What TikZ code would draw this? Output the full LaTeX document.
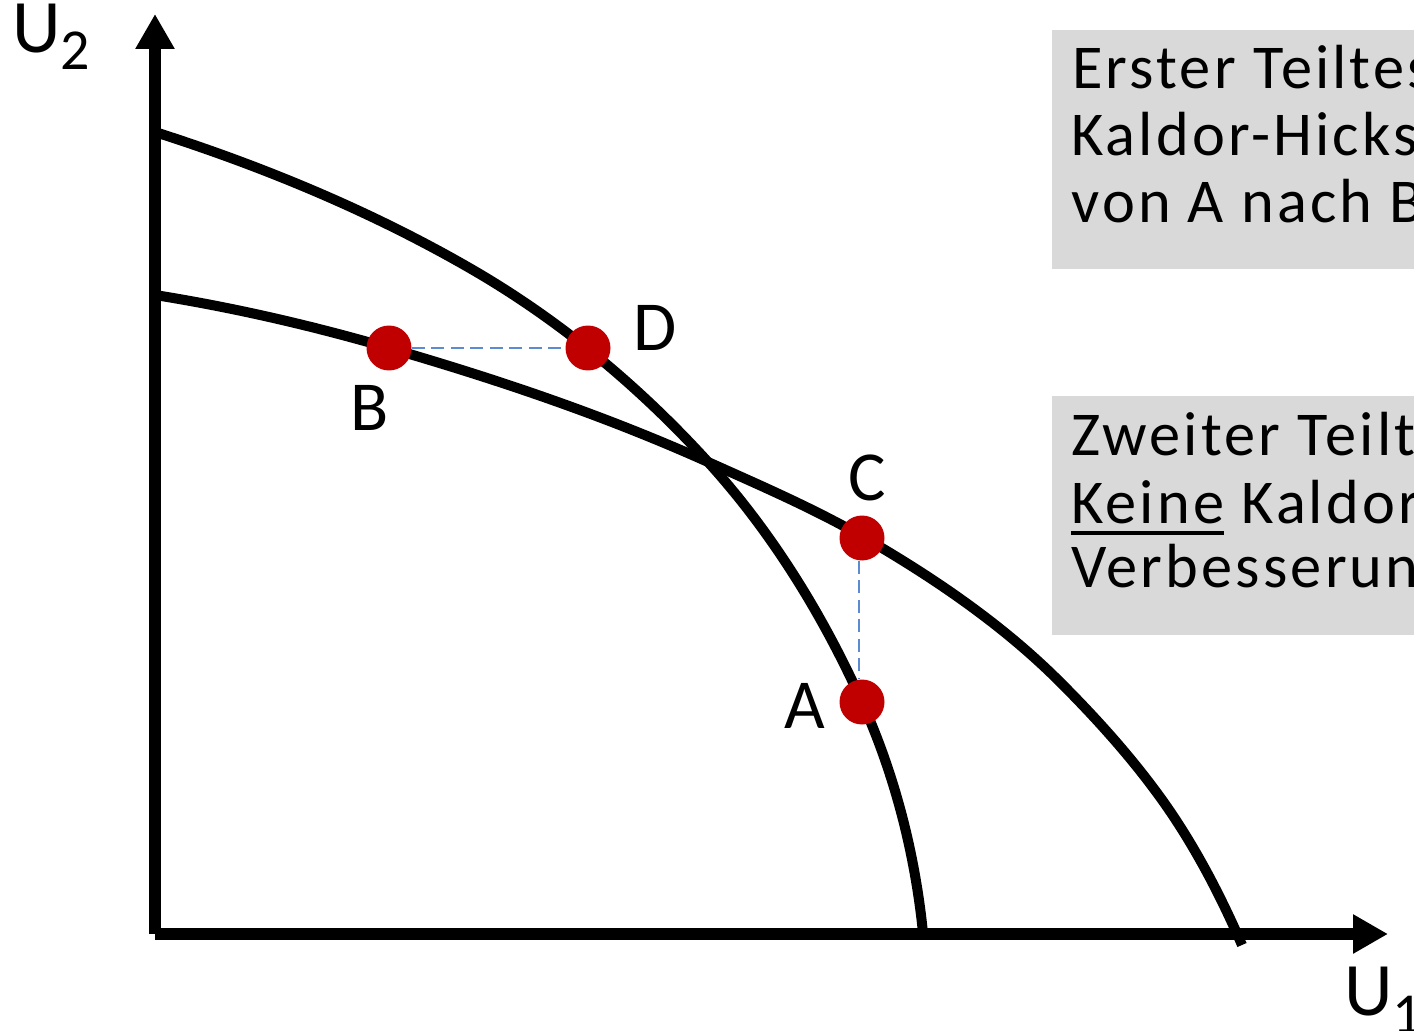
\documentclass[tikz,border=0pt]{standalone}
\usepackage{fontspec}
\setmainfont{Carlito}
\newfontfamily\boxfont[LetterSpace=5]{Carlito}
\usetikzlibrary{arrows.meta}
\definecolor{dotred}{HTML}{C00000}
\definecolor{dashblue}{HTML}{5B8BD0}
\definecolor{boxgray}{HTML}{D9D9D9}
\newcommand\myul[1]{\setbox0\hbox{#1}\rlap{\rule[-0.24cm]{\wd0}{0.08cm}}\box0\relax}
\begin{document}
\begin{tikzpicture}[x=0.02cm,y=-0.02cm,
  axis/.style={line width=0.24cm, -{Triangle[length=0.7cm,width=0.74cm]}},
  curve/.style={line width=0.2cm},
  dot/.style={circle, fill=dotred, minimum size=0.9cm, inner sep=0pt},
  guide/.style={draw=dashblue, line width=0.04cm, dash pattern=on 0.26cm off 0.13cm},
  ptlabel/.style={font=\fontsize{40}{48}\selectfont, inner sep=0pt, anchor=base},
  boxtext/.style={font=\boxfont\fontsize{35.5}{38}\selectfont, inner sep=0pt, anchor=base west},
  axlabel/.style={font=\fontsize{43}{50}\selectfont, inner sep=0pt, anchor=base west},
  greybox/.style={fill=boxgray, draw=none, inner sep=0pt, anchor=north west, minimum width=7.6cm, minimum height=4.78cm},
]
\useasboundingbox (0,0) rectangle (1414,1031);
\clip (0,0) rectangle (1414,1031);

% grey boxes
\node[greybox] (box1) at (1052,30) {};
\node[greybox] (box2) at (1052,396) {};
\node[boxtext] (t11) at (1072,88) {Erster Teiltest};
\node[boxtext] (t12) at (1071,155) {Kaldor-Hicks};
\node[boxtext] (t13) at (1071,222) {von A nach B};
\node[boxtext] (t21) at (1071,455) {Zweiter Teiltest};
\node[boxtext] (t22) at (1071,523) {\myul{Keine} Kaldor};
\node[boxtext] (t23) at (1071,587) {Verbesserung};

% axes
\coordinate (O) at (155,934);
\coordinate (ytip) at (155,14);
\coordinate (xtip) at (1388,934);
\draw[axis] (O) -- (ytip);
\draw[axis] (O) -- (xtip);
\node[axlabel] (u2) at (12,52) {U\raisebox{-0.36cm}{\fontsize{33}{40}\selectfont 2}};
\node[axlabel] (u1) at (1344,1015) {U\raisebox{-0.36cm}{\fontsize{33}{40}\selectfont 1}};

% curves
\draw[curve] (155,132) .. controls (265.1,167.2) and (373.0,212.0) .. (473,270)
  .. controls (560.5,320.8) and (639.9,387.1) .. (708,462)
  .. controls (772.0,532.4) and (823.0,615.3) .. (862,702)
  .. controls (894.7,774.6) and (915.1,853.8) .. (923,933);
\draw[curve] (155,295) .. controls (234.0,307.6) and (312.2,325.7) .. (389,348)
  .. controls (497.4,379.4) and (605.0,415.7) .. (708,462)
  .. controls (761.0,485.8) and (814.7,508.9) .. (865,538)
  .. controls (934.9,578.5) and (1002.9,624.9) .. (1060,682)
  .. controls (1095.9,717.9) and (1130.2,755.9) .. (1160,797)
  .. controls (1193.1,842.7) and (1219.5,893.3) .. (1242,945);

% points
\node[dot] (B) at (389,348) {};
\node[dot] (D) at (588,348) {};
\node[dot] (C) at (862,538) {};
\node[dot] (A) at (862,702) {};
\draw[guide] (B) -- (D);
\draw[guide] ([xshift=-0.06cm]C.south) -- ([xshift=-0.06cm]A.north);

\node[ptlabel] (lD) at (655,350) {D};
\node[ptlabel] (lB) at (370,430) {B};
\node[ptlabel] (lC) at (867,500) {C};
\node[ptlabel] (lA) at (805,728) {A};
\end{tikzpicture}
\end{document}
